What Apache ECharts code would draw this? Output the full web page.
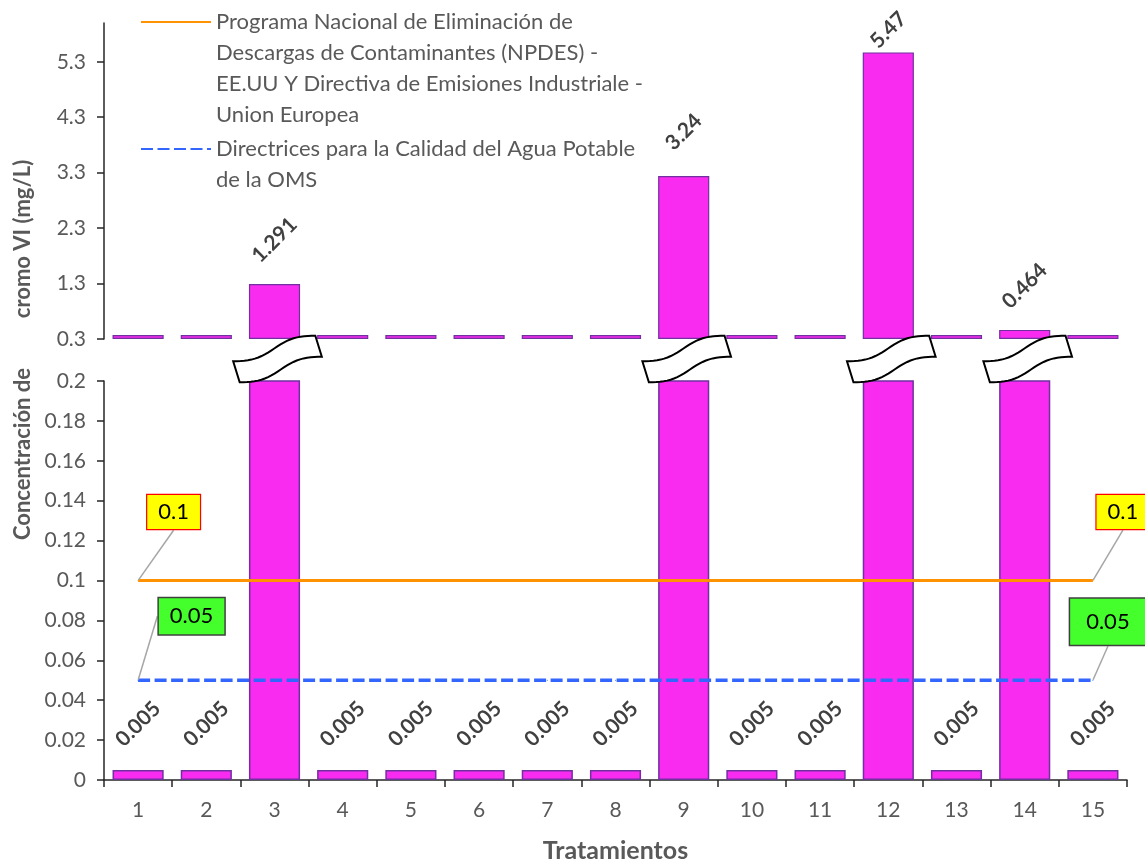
<!DOCTYPE html>
<html>
<head>
<meta charset="utf-8">
<script src="https://cdn.jsdelivr.net/npm/echarts@6/dist/echarts.min.js"></script>
<style>html,body{margin:0;padding:0;background:#fff}#c{width:1145px;height:865px}</style>
</head>
<body>
<div id="c"></div>
<script>
// ---- data ----
const categories = ['1','2','3','4','5','6','7','8','9','10','11','12','13','14','15'];
const cromoVI = [0.005,0.005,1.291,0.005,0.005,0.005,0.005,0.005,3.24,0.005,0.005,5.47,0.005,0.464,0.005];
const npdesLimit = [0.1,0.1,0.1,0.1,0.1,0.1,0.1,0.1,0.1,0.1,0.1,0.1,0.1,0.1,0.1];
const omsLimit = [0.05,0.05,0.05,0.05,0.05,0.05,0.05,0.05,0.05,0.05,0.05,0.05,0.05,0.05,0.05];
const upperTicks = [0.3,1.3,2.3,3.3,4.3,5.3];
const npdesName = 'Programa Nacional de Eliminación de\nDescargas de Contaminantes (NPDES) -\nEE.UU Y Directiva de Emisiones Industriale -\nUnion Europea';
const omsName = 'Directrices para la Calidad del Agua Potable\nde la OMS';
const xTitle = 'Tratamientos';
const yTitleLow = 'Concentración de';
const yTitleUp = 'cromo VI (mg/L)';

const LOW_MIN = 0, LOW_MAX = 0.2, LOW_STEP = 0.02;
const UP_MIN = 0.3, UP_MAX = 6;

// ---- styles ----
const FONT = 'Lato';
const GREY = '#595959';
const AXIS = '#262626';
const BAR_FILL = '#F92BF0';
const BAR_BORDER = '#7030A0';
const LABEL_DIST = 44;

const chart = echarts.init(document.getElementById('c'));

function endItems(values, extra) {
  return values.map((v, i) => (i === 0 || i === values.length - 1)
    ? { value: v, label: Object.assign({ show: true }, extra[i === 0 ? 0 : 1]) }
    : v);
}
// upper panel shows values below its floor as a stub sitting on the floor (broken axis)
function upperPanelItems(values) {
  return values.map(v => ({ value: Math.max(v, UP_MIN), raw: v }));
}

const barLabelBase = {
  show: true, position: 'top', rotate: 45, distance: LABEL_DIST,
  align: 'center', verticalAlign: 'middle',
  fontFamily: FONT, fontWeight: 'bold', fontSize: 21, color: '#404040'
};

function legendText() {
  return { fontFamily: FONT, fontSize: 22, lineHeight: 31, color: GREY };
}

const option = {
  animation: false,
  backgroundColor: '#fff',
  grid: [
    { left: 104, right: 18, top: 381, bottom: 85, containLabel: false, outerBoundsMode: 'none' },
    { left: 104, right: 18, top: 23, bottom: 526, containLabel: false, outerBoundsMode: 'none' }
  ],
  legend: [
    {
      data: [npdesName],
      formatter: n => '\n\n\n' + n,
      orient: 'vertical', left: 140, top: -86.5, padding: 0,
      itemWidth: 70, itemHeight: 2, selectedMode: false,
      textStyle: legendText()
    },
    {
      data: [omsName],
      formatter: n => '\n' + n,
      orient: 'vertical', left: 140, top: 102.5, padding: 0,
      itemWidth: 70, itemHeight: 2, selectedMode: false,
      textStyle: legendText()
    }
  ],
  xAxis: [
    {
      type: 'category', gridIndex: 0, data: categories, boundaryGap: true,
      axisLine: { lineStyle: { color: AXIS, width: 1.5 } },
      axisTick: { show: true, length: 7, lineStyle: { color: AXIS, width: 1.5 } },
      axisLabel: { fontFamily: FONT, fontSize: 21, color: GREY, margin: 20 },
      name: xTitle, nameLocation: 'middle', nameGap: 58,
      nameTextStyle: { fontFamily: FONT, fontWeight: 'bold', fontSize: 25, color: GREY }
    },
    {
      type: 'category', gridIndex: 1, data: categories, boundaryGap: true,
      show: false
    }
  ],
  yAxis: [
    {
      type: 'value', gridIndex: 0, min: LOW_MIN, max: LOW_MAX, interval: LOW_STEP,
      splitLine: { show: false },
      axisLine: { show: true, lineStyle: { color: AXIS, width: 1.5 } },
      axisTick: { show: true, length: 7, lineStyle: { color: AXIS, width: 1.5 } },
      axisLabel: { fontFamily: FONT, fontSize: 21, color: GREY, margin: 18 }
    },
    {
      type: 'value', gridIndex: 1, min: UP_MIN, max: UP_MAX, startValue: UP_MIN,
      splitLine: { show: false },
      axisLine: { show: true, lineStyle: { color: AXIS, width: 1.5 } },
      axisTick: { show: true, length: 7, customValues: upperTicks, lineStyle: { color: AXIS, width: 1.5 } },
      axisLabel: { fontFamily: FONT, fontSize: 21, color: GREY, margin: 18, customValues: upperTicks }
    }
  ],
  series: [
    {
      id: 'upper', type: 'bar', xAxisIndex: 1, yAxisIndex: 1, data: upperPanelItems(cromoVI), barWidth: '75%',
      barMinHeight: 4,
      itemStyle: { color: BAR_FILL, borderColor: BAR_BORDER, borderWidth: 1.2 },
      label: Object.assign({}, barLabelBase, { formatter: p => cromoVI[p.dataIndex] > UP_MIN ? String(cromoVI[p.dataIndex]) : '' }),
      emphasis: { disabled: true }, silent: true
    },
    {
      type: 'bar', xAxisIndex: 0, yAxisIndex: 0, data: cromoVI, barWidth: '75%',
      itemStyle: { color: BAR_FILL, borderColor: BAR_BORDER, borderWidth: 1.5 },
      label: Object.assign({}, barLabelBase, { distance: 46, formatter: p => p.value <= LOW_MAX ? String(p.value) : '' }),
      emphasis: { disabled: true }, silent: true
    },
    {
      name: npdesName, type: 'line', xAxisIndex: 0, yAxisIndex: 0,
      data: endItems(npdesLimit, [{ padding: [6, 11] }, { padding: [6, 11] }]),
      color: '#FF9200',
      symbol: 'circle', symbolSize: 1, showSymbol: true,
      lineStyle: { color: '#FF9200', width: 3 },
      label: {
        show: false, position: 'inside', fontFamily: FONT, fontSize: 22, color: '#000',
        backgroundColor: '#FFFF00', borderColor: '#FF0000', borderWidth: 1.2
      },
      labelLine: { show: true, length2: 0, lineStyle: { color: '#A6A6A6', width: 1.5 } },
      labelLayout: p => p.dataIndex === 0 ? { dx: 35.5, dy: -68.5 } : { dx: 30, dy: -68.5 },
      emphasis: { disabled: true }, silent: true, z: 5
    },
    {
      name: omsName, type: 'line', xAxisIndex: 0, yAxisIndex: 0,
      data: endItems(omsLimit, [{ padding: [7, 11] }, { padding: [12, 16] }]),
      color: '#3366FF',
      symbol: 'circle', symbolSize: 1, showSymbol: true,
      lineStyle: { color: '#3366FF', width: 3.5, type: [12, 4.5] },
      label: {
        show: false, position: 'inside', fontFamily: FONT, fontSize: 22, color: '#000',
        backgroundColor: '#44FF2C', borderColor: '#404040', borderWidth: 1.5
      },
      labelLine: { show: true, length2: 0, lineStyle: { color: '#A6A6A6', width: 1.5 } },
      labelLayout: p => p.dataIndex === 0 ? { dx: 53.5, dy: -64 } : { dx: 15, dy: -58.5 },
      emphasis: { disabled: true }, silent: true, z: 5
    }
  ]
};

chart.setOption(option);

// keep upper-panel value labels inside the chart (as the reference does for the tallest bar)
const upperData = upperPanelItems(cromoVI).map((d, i) => {
  const yTop = chart.convertToPixel({ yAxisIndex: 1 }, d.value);
  const room = yTop - 30;
  if (cromoVI[i] > UP_MIN && room < LABEL_DIST) {
    return Object.assign({}, d, { label: { distance: Math.max(room, 20) } });
  }
  return d;
});

// ---- decorations: axis titles and break marks ----
function breakShape() {
  const w = 86, h = 22, amp = 4, n = 24;
  const pts = [];
  for (let i = 0; i <= n; i++) {
    const t = i / n;
    pts.push([-w / 2 + w * t, -h / 2 + amp * Math.sin(2 * Math.PI * t)]);
  }
  for (let i = n; i >= 0; i--) {
    const t = i / n;
    pts.push([-w / 2 + w * t, h / 2 + amp * Math.sin(2 * Math.PI * t)]);
  }
  return pts;
}

const graphics = [];
const yGapTop = chart.convertToPixel({ yAxisIndex: 1 }, UP_MIN);
const yGapBot = chart.convertToPixel({ yAxisIndex: 0 }, LOW_MAX);
const shape = breakShape();
cromoVI.forEach((v, i) => {
  if (v > LOW_MAX) {
    const x = chart.convertToPixel({ xAxisIndex: 0 }, i);
    graphics.push({
      type: 'polygon', x: x + 3, y: (yGapTop + yGapBot) / 2 - 1, rotation: 0.3,
      shape: { points: shape },
      style: { fill: '#fff', stroke: '#000', lineWidth: 2 },
      z: 100, silent: true
    });
  }
});
graphics.push({
  type: 'text', x: 23, y: 454, rotation: Math.PI / 2,
  style: { text: yTitleLow, font: 'bold 22px ' + FONT, fill: GREY, align: 'center', verticalAlign: 'middle' },
  z: 50, silent: true
});
graphics.push({
  type: 'text', x: 23, y: 239, rotation: Math.PI / 2,
  style: { text: yTitleUp, font: 'bold 22px ' + FONT, fill: GREY, align: 'center', verticalAlign: 'middle' },
  z: 50, silent: true
});
chart.setOption({ graphic: graphics, series: [{ id: 'upper', data: upperData }] });
</script>
</body>
</html>
